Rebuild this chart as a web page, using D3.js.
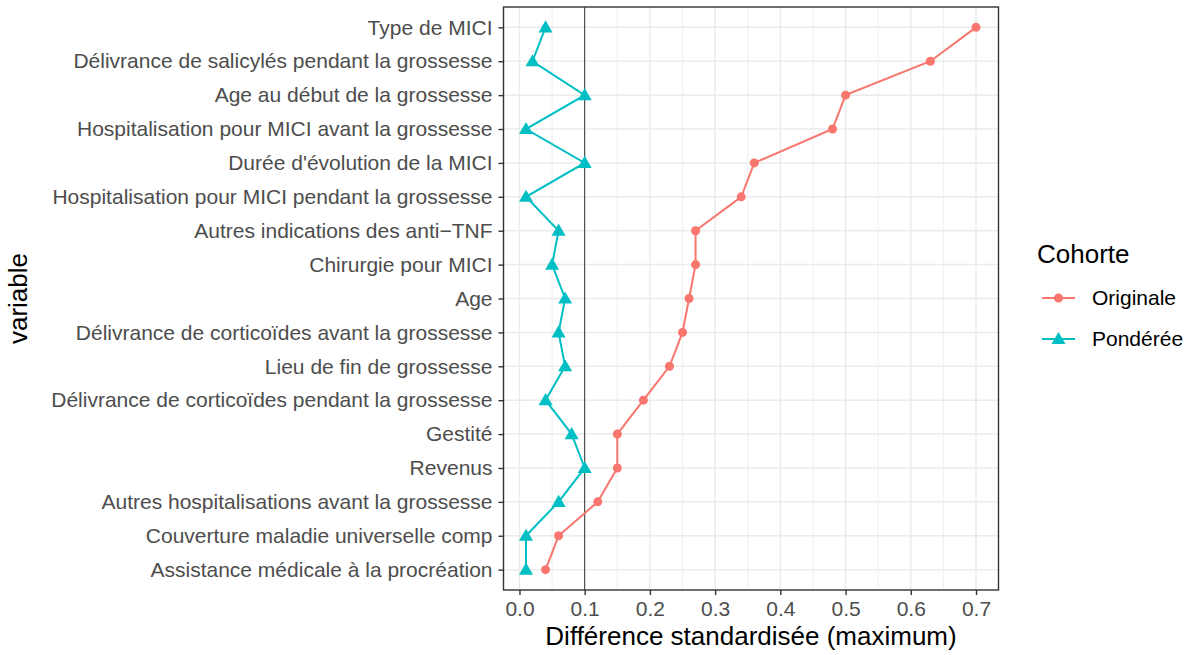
<!DOCTYPE html>
<html><head><meta charset="utf-8">
<script src="https://cdn.jsdelivr.net/npm/d3@7"></script>
<style>body{margin:0;background:#fff;} svg{display:block;font-family:"Liberation Sans",Arial,sans-serif;}</style>
</head><body>
<svg id="c" width="1190" height="655"></svg>
<script>
const variables = [
  "Type de MICI",
  "Délivrance de salicylés pendant la grossesse",
  "Age au début de la grossesse",
  "Hospitalisation pour MICI avant la grossesse",
  "Durée d'évolution de la MICI",
  "Hospitalisation pour MICI pendant la grossesse",
  "Autres indications des anti\u2212TNF",
  "Chirurgie pour MICI",
  "Age",
  "Délivrance de corticoïdes avant la grossesse",
  "Lieu de fin de grossesse",
  "Délivrance de corticoïdes pendant la grossesse",
  "Gestité",
  "Revenus",
  "Autres hospitalisations avant la grossesse",
  "Couverture maladie universelle comp",
  "Assistance médicale à la procréation"
];
const originale = [0.70,0.63,0.50,0.48,0.36,0.34,0.27,0.27,0.26,0.25,0.23,0.19,0.15,0.15,0.12,0.06,0.04];
const ponderee  = [0.04,0.02,0.10,0.01,0.10,0.01,0.06,0.05,0.07,0.06,0.07,0.04,0.08,0.10,0.06,0.01,0.01];
const xTicks = [0,0.1,0.2,0.3,0.4,0.5,0.6,0.7];
const xMinor = [0.05,0.15,0.25,0.35,0.45,0.55,0.65];
const seriesNames = ["Originale","Pondérée"];
const colors = ["#F8766D","#00BFC4"];
const threshold = 0.1;

const svg = d3.select("#c");
const L = 503.5, R = 998.5, T = 7, B = 590;
const allVals = originale.concat(ponderee);
const lo = d3.min(allVals), hi = d3.max(allVals), pad = (hi-lo)*0.05;
const x = d3.scaleLinear().domain([lo-pad, hi+pad]).range([L, R]);
const y = d3.scalePoint().domain(variables).range([T, B]).padding(0.6);

// grid
const g = svg.append("g");
g.selectAll(".minx").data(xMinor).join("line")
  .attr("x1", d=>x(d)).attr("x2", d=>x(d)).attr("y1", T).attr("y2", B)
  .attr("stroke", "#ebebeb").attr("stroke-width", 0.8);
g.selectAll(".majx").data(xTicks).join("line")
  .attr("x1", d=>x(d)).attr("x2", d=>x(d)).attr("y1", T).attr("y2", B)
  .attr("stroke", "#ebebeb").attr("stroke-width", 1.5);
g.selectAll(".majy").data(variables).join("line")
  .attr("x1", L).attr("x2", R).attr("y1", d=>y(d)).attr("y2", d=>y(d))
  .attr("stroke", "#ebebeb").attr("stroke-width", 1.5);

// vline
svg.append("line").attr("x1", x(threshold)).attr("x2", x(threshold)).attr("y1", T).attr("y2", B)
  .attr("stroke", "#333").attr("stroke-width", 1);

const series = [originale, ponderee];
const tri = d3.symbol().type(d3.symbolTriangle).size(85);
series.forEach((vals, si) => {
  const pts = variables.map((v,i)=>[x(vals[i]), y(v)]);
  svg.append("path").attr("d", d3.line()(pts)).attr("fill","none")
    .attr("stroke", colors[si]).attr("stroke-width", 2);
  if (si === 0) {
    svg.selectAll(null).data(pts).join("circle")
      .attr("cx", d=>d[0]).attr("cy", d=>d[1]).attr("r", 4.5).attr("fill", colors[si]);
  } else {
    svg.selectAll(null).data(pts).join("path")
      .attr("d", tri).attr("transform", d=>`translate(${d[0]},${d[1]+1})`).attr("fill", colors[si]);
  }
});

// border
svg.append("rect").attr("x", L).attr("y", T).attr("width", R-L).attr("height", B-T)
  .attr("fill","none").attr("stroke","#333").attr("stroke-width", 1.4);

// axes
const xAxis = d3.axisBottom(x).tickValues(xTicks).tickFormat(d3.format(".1f")).tickSize(5).tickPadding(3);
const xa = svg.append("g").attr("transform", `translate(0,${B})`).call(xAxis);
const yAxis = d3.axisLeft(y).tickSize(5).tickPadding(6);
const ya = svg.append("g").attr("transform", `translate(${L},0)`).call(yAxis);
[xa, ya].forEach(a => {
  a.select(".domain").remove();
  a.selectAll(".tick line").attr("stroke","#333").attr("stroke-width",1.4);
  a.selectAll(".tick text").attr("fill","#4d4d4d").style("font-size","21px").style("font-family",'"Liberation Sans",Arial,sans-serif');
});
xa.selectAll(".tick text").attr("dy","0.85em");

// titles
svg.append("text").attr("x", (L+R)/2).attr("y", 645).attr("text-anchor","middle")
  .style("font-size","26px").attr("fill","#000").text("Différence standardisée (maximum)");
svg.append("text").attr("transform", `translate(27,${(T+B)/2}) rotate(-90)`).attr("text-anchor","middle")
  .style("font-size","26px").attr("fill","#000").text("variable");

// legend
const lg = svg.append("g");
lg.append("text").attr("x", 1037).attr("y", 263).style("font-size","26px").attr("fill","#000").text("Cohorte");
seriesNames.forEach((n,i) => {
  const cy = 298 + i*41;
  lg.append("line").attr("x1",1042).attr("x2",1075).attr("y1",cy).attr("y2",cy).attr("stroke",colors[i]).attr("stroke-width",2);
  if (i===0) lg.append("circle").attr("cx",1058.5).attr("cy",cy).attr("r",4.5).attr("fill",colors[i]);
  else lg.append("path").attr("d",tri).attr("transform",`translate(1058.5,${cy+1})`).attr("fill",colors[i]);
  lg.append("text").attr("x",1092).attr("y",cy).attr("dy","0.35em").style("font-size","21px").attr("fill","#000").text(n);
});
</script>
</body></html>
